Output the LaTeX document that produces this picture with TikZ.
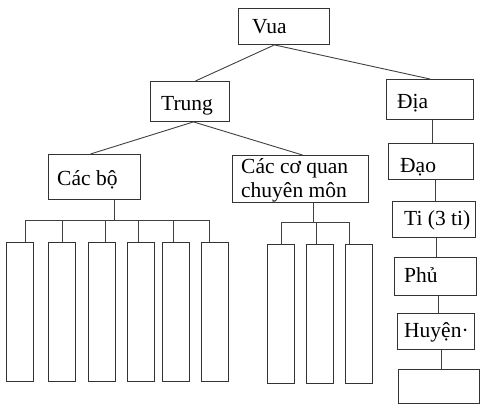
\documentclass[tikz,border=0pt]{standalone}
\usepackage{fontspec}
\setmainfont{Liberation Serif}
\begin{document}
\begin{tikzpicture}[x=1pt,y=-1pt,
  box/.style={draw=black!80, line width=0.9pt, inner sep=0pt, anchor=north west},
  txt/.style={anchor=base west, inner sep=0pt, font=\fontsize{21.5}{24}\selectfont},
  link/.style={draw=black!75, line width=0.9pt}]
\useasboundingbox (0,0) rectangle (485,410);
% boxes
\node[box, minimum width=91, minimum height=36] (vua) at (238,8) {};
\node[box, minimum width=79, minimum height=40] (trung) at (150,81) {};
\node[box, minimum width=87, minimum height=40] (dia) at (386,79) {};
\node[box, minimum width=92, minimum height=45] (cacbo) at (48,154) {};
\node[box, minimum width=136, minimum height=47] (cacco) at (232,155) {};
\node[box, minimum width=85, minimum height=36] (dao) at (388,143) {};
\node[box, minimum width=83, minimum height=36] (ti) at (392,201) {};
\node[box, minimum width=82, minimum height=38] (phu) at (394,257) {};
\node[box, minimum width=77, minimum height=36] (huyen) at (397,313) {};
\node[box, minimum width=81, minimum height=34] (xa) at (398,369) {};
% texts
\node[txt] (tvua) at (252,33) {Vua};
\node[txt] (ttrung) at (161,110) {Trung};
\node[txt] (tdia) at (397,108) {Địa};
\node[txt] (tcacbo) at (57,185) {Các bộ};
\node[txt] (tcacco1) at (241,173) {Các cơ quan};
\node[txt] (tcacco2) at (241,197) {chuyên môn};
\node[txt] (tdao) at (400,172) {Đạo};
\node[txt] (tti) at (404,225) {Ti (3 ti)};
\node[txt] (tphu) at (404,282) {Phủ};
\node[txt] (thuyen) at (404,337) {Huyện·};
% small boxes under Cac bo
\foreach \n/\x in {1/6,2/48,3/88,4/127,5/162,6/201}
  \node[box, minimum width=26.5, minimum height=139] (b\n) at (\x,242) {};
% small boxes under Cac co quan
\foreach \n/\x in {1/267,2/306,3/345}
  \node[box, minimum width=27, minimum height=139] (c\n) at (\x,244) {};
% junctions
\coordinate (bj) at (114,220);
\coordinate (cj) at (313,222);
% connectors
\draw[link] ([xshift=-9.5pt]vua.south) -- ([xshift=5.5pt]trung.north);
\draw[link] ([xshift=-9.5pt]vua.south) -- (dia.north);
\draw[link] ([xshift=3.5pt]trung.south) -- ([xshift=-4pt]cacbo.north);
\draw[link] ([xshift=3.5pt]trung.south) -- ([xshift=2pt]cacco.north);
\draw[link] ([xshift=2.5pt]dia.south) -- ([xshift=2.5pt]dia.south |- dao.north);
\draw[link] ([xshift=4.5pt]dao.south) -- ([xshift=4.5pt]dao.south |- ti.north);
\draw[link] ([xshift=2.5pt]ti.south) -- ([xshift=2.5pt]ti.south |- phu.north);
\draw[link] ([xshift=3pt]phu.south) -- ([xshift=3pt]phu.south |- huyen.north);
\draw[link] ([xshift=5.5pt]huyen.south) -- ([xshift=5.5pt]huyen.south |- xa.north);
\draw[link] (cacbo.south -| bj) -- (bj);
\draw[link] (cacco.south -| cj) -- (cj);
\draw[link] ([xshift=6pt]b1.north) |- (bj);
\draw[link] ([xshift=1pt]b2.north) |- (bj);
\draw[link] ([xshift=3.5pt]b3.north) |- (bj);
\draw[link] ([xshift=-2.5pt]b4.north) |- (bj);
\draw[link] ([xshift=-2.5pt]b5.north) |- (bj);
\draw[link] ([xshift=-5.5pt]b6.north) |- (bj);
\draw[link] ([xshift=0.5pt]c1.north) |- (cj);
\draw[link] ([xshift=-3.5pt]c2.north) |- (cj);
\draw[link] ([xshift=-9.5pt]c3.north) |- (cj);
\end{tikzpicture}
\end{document}
